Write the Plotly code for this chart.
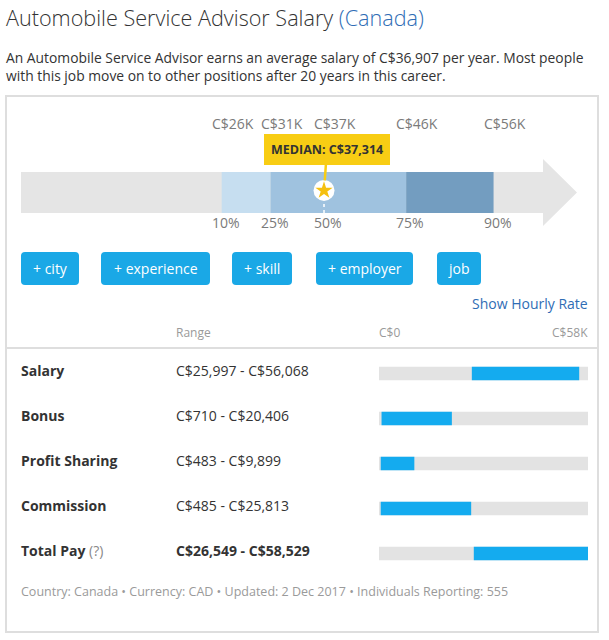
import plotly.graph_objects as go

# ---------------- data ----------------
pct_labels = ["10%", "25%", "50%", "75%", "90%"]
pct_values = [25997, 31400, 37314, 46400, 56068]
pct_top_labels = ["C$26K", "C$31K", "C$37K", "C$46K", "C$56K"]
median_value = 37314

buttons = ["+ city", "+ experience", "+ skill", "+ employer", "job"]

comp_labels = ["Salary", "Bonus", "Profit Sharing", "Commission", "Total Pay"]
comp_low = [25997, 710, 483, 485, 26549]
comp_high = [56068, 20406, 9899, 25813, 58529]
scale_max = 58529

# ---------------- layout helpers ----------------
W, H = 609, 640
FONT = "Open Sans"


def X(p):
    return p / W


def Y(p):
    return 1 - p / H


def rrect(x0, y0, x1, y1, r):
    segs = [("M", [(x0 + r, y0)]), ("L", [(x1 - r, y0)]), ("Q", [(x1, y0), (x1, y0 + r)]),
            ("L", [(x1, y1 - r)]), ("Q", [(x1, y1), (x1 - r, y1)]), ("L", [(x0 + r, y1)]),
            ("Q", [(x0, y1), (x0, y1 - r)]), ("L", [(x0, y0 + r)]), ("Q", [(x0, y0), (x0 + r, y0)])]
    s = ""
    for c, ps in segs:
        s += c + " " + " ".join(f"{X(a):.5f},{Y(b):.5f}" for a, b in ps) + " "
    return s + "Z"


def poly(points):
    return "M " + " L ".join(f"{X(a):.5f},{Y(b):.5f}" for a, b in points) + " Z"


fig = go.Figure()

# ---------- percentile bar (axis x / y) ----------
seg_colors = ["#c6def0", "#9fc2df", "#9fc2df", "#739dc0"]
fig.add_trace(go.Bar(
    orientation="h", y=[0] * 4,
    base=pct_values[:-1],
    x=[pct_values[i + 1] - pct_values[i] for i in range(4)],
    width=1, marker=dict(color=seg_colors, line=dict(width=0)),
    hoverinfo="skip", showlegend=False, xaxis="x", yaxis="y"))

fig.add_trace(go.Scatter(
    x=[median_value], y=[0.05], mode="markers",
    marker=dict(symbol="circle", size=21, color="white", line=dict(width=0)),
    hoverinfo="skip", showlegend=False, xaxis="x", yaxis="y"))
fig.add_trace(go.Scatter(
    x=[median_value], y=[0.05], mode="markers",
    marker=dict(symbol="star", size=13, color="#f5c010", line=dict(width=0)),
    hoverinfo="skip", showlegend=False, xaxis="x", yaxis="y"))

# ---------- compensation rows (axis x2 / y2) ----------
rows = list(range(len(comp_labels)))
fig.add_trace(go.Bar(
    orientation="h", y=rows, base=[0] * len(rows), x=[scale_max] * len(rows),
    width=0.3, marker=dict(color="#e3e3e3", line=dict(width=0)),
    hoverinfo="skip", showlegend=False, xaxis="x2", yaxis="y2"))
fig.add_trace(go.Bar(
    orientation="h", y=rows, base=comp_low,
    x=[h - l for l, h in zip(comp_low, comp_high)],
    width=0.3, marker=dict(color="#14abef", line=dict(width=0)),
    hoverinfo="skip", showlegend=False, xaxis="x2", yaxis="y2"))

shapes = []
annotations = []

# outer box and separator
shapes.append(dict(type="rect", xref="paper", yref="paper", x0=X(6), x1=X(598), y0=Y(632), y1=Y(96),
                   line=dict(color="#dedede", width=2), fillcolor="rgba(0,0,0,0)", layer="below"))
shapes.append(dict(type="line", xref="paper", yref="paper", x0=X(6), x1=X(598), y0=Y(348), y1=Y(348),
                   line=dict(color="#dedede", width=2), layer="below"))

# gray arrow behind percentile bar
shapes.append(dict(type="path", xref="paper", yref="paper", layer="below",
                   path=poly([(21, 172), (543, 172), (543, 159), (577, 192.5), (543, 226), (543, 213), (21, 213)]),
                   fillcolor="#e5e5e5", line=dict(width=0)))

# dashed white line under the star
shapes.append(dict(type="line", xref="x", yref="y", x0=median_value, x1=median_value, y0=-0.5, y1=-0.2,
                   line=dict(color="white", width=1.5, dash="dot"), layer="above"))

# title + description
annotations.append(dict(xref="paper", yref="paper", x=X(4), y=Y(17), xanchor="left", yanchor="middle",
                        showarrow=False,
                        text="Automobile Service Advisor Salary <span style='color:#2f6db5'>(Canada)</span>",
                        font=dict(family=FONT, size=21.6, color="#333333", weight=300)))
annotations.append(dict(xref="paper", yref="paper", x=X(4), y=Y(66), xanchor="left", yanchor="middle",
                        showarrow=False, align="left",
                        text="An Automobile Service Advisor earns an average salary of C$36,907 per year. Most people"
                             "<br>with this job move on to other positions after 20 years in this career.",
                        font=dict(family=FONT, size=13.85, color="#333333")))

# percentile labels
for v, top, bot in zip(pct_values, pct_top_labels, pct_labels):
    annotations.append(dict(xref="x", yref="paper", x=v, y=Y(124), xanchor="center", yanchor="middle",
                            xshift=11, showarrow=False, text=top,
                            font=dict(family=FONT, size=14, color="#7a7a7a")))
    annotations.append(dict(xref="x", yref="paper", x=v, y=Y(223), xanchor="center", yanchor="middle",
                            xshift=4, showarrow=False, text=bot,
                            font=dict(family=FONT, size=14, color="#7a7a7a")))

# median tooltip
annotations.append(dict(xref="x", yref="y", x=median_value, y=0.05, ax=3, ay=-41,
                        showarrow=True, arrowhead=0, arrowwidth=2.5, arrowcolor="#f8cd14", standoff=10,
                        text=f"<b>MEDIAN: C${median_value:,}</b>", bgcolor="#f8cd14", bordercolor="#f8cd14",
                        borderpad=6, font=dict(family=FONT, size=12.5, color="#333333")))

# buttons
btn_x = [(21, 79), (101, 210), (232, 292), (316, 413), (437, 481)]
for (x0, x1), lab in zip(btn_x, buttons):
    shapes.append(dict(type="path", xref="paper", yref="paper", path=rrect(x0, 252, x1, 285, 4),
                       fillcolor="#1aa8e6", line=dict(width=0), layer="below"))
    annotations.append(dict(xref="paper", yref="paper", x=X((x0 + x1) / 2), y=Y(268), xanchor="center",
                            yanchor="middle", showarrow=False, text=lab,
                            font=dict(family=FONT, size=14, color="white")))

annotations.append(dict(xref="paper", yref="paper", x=X(590), y=Y(303), xanchor="right", yanchor="middle",
                        showarrow=False, text="Show Hourly Rate",
                        font=dict(family=FONT, size=14, color="#2f6db5")))

# header row
annotations.append(dict(xref="paper", yref="paper", x=X(174), y=Y(332), xanchor="left", yanchor="middle",
                        showarrow=False, text="Range", font=dict(family=FONT, size=12, color="#9a9a9a")))
annotations.append(dict(xref="x2", yref="paper", x=0, y=Y(332), xanchor="left", yanchor="middle", xshift=-2,
                        showarrow=False, text="C$0", font=dict(family=FONT, size=12, color="#9a9a9a")))
annotations.append(dict(xref="x2", yref="paper", x=scale_max, y=Y(332), xanchor="right", yanchor="middle",
                        xshift=2, showarrow=False, text=f"C${scale_max // 1000}K",
                        font=dict(family=FONT, size=12, color="#9a9a9a")))

# rows
for i, (lab, lo, hi) in enumerate(zip(comp_labels, comp_low, comp_high)):
    is_total = lab == "Total Pay"
    label_text = f"<b>{lab}</b>" + (" <span style='color:#888'>(?)</span>" if is_total else "")
    rng = f"C${lo:,} - C${hi:,}"
    annotations.append(dict(xref="paper", yref="y2", x=X(19), y=i, yshift=3, xanchor="left", yanchor="middle",
                            showarrow=False, text=label_text,
                            font=dict(family=FONT, size=14, color="#333333")))
    annotations.append(dict(xref="paper", yref="y2", x=X(174), y=i, yshift=3, xanchor="left", yanchor="middle",
                            showarrow=False, text=f"<b>{rng}</b>" if is_total else rng,
                            font=dict(family=FONT, size=14, color="#333333")))

# footer
annotations.append(dict(xref="paper", yref="paper", x=X(19), y=Y(591), xanchor="left", yanchor="middle",
                        showarrow=False,
                        text="Country: Canada \u2022 Currency: CAD \u2022 Updated: 2 Dec 2017 \u2022 Individuals Reporting: 555",
                        font=dict(family=FONT, size=12.5, color="#9a9a9a")))

# dollar axis for the percentile bar (pixel 0..609 of the page)
px_per_k, px_at_zero = 9.041, -13.35
x_range = [(0 - px_at_zero) / px_per_k * 1000, (W - px_at_zero) / px_per_k * 1000]

hidden = dict(showgrid=False, zeroline=False, showticklabels=False, showline=False, ticks="", fixedrange=True)

fig.update_layout(
    width=W, height=H, margin=dict(l=0, r=0, t=0, b=0),
    paper_bgcolor="white", plot_bgcolor="rgba(0,0,0,0)",
    barmode="overlay", showlegend=False,
    xaxis=dict(domain=[0, 1], range=x_range, anchor="y", **hidden),
    yaxis=dict(domain=[Y(213), Y(172)], range=[-0.5, 0.5], anchor="x", **hidden),
    xaxis2=dict(domain=[X(379), X(588)], range=[0, scale_max], anchor="y2", **hidden),
    yaxis2=dict(domain=[Y(576), Y(351)], range=[4.5, -0.5], anchor="x2", **hidden),
    shapes=shapes, annotations=annotations,
    font=dict(family=FONT),
)

fig.write_html("out.html")
